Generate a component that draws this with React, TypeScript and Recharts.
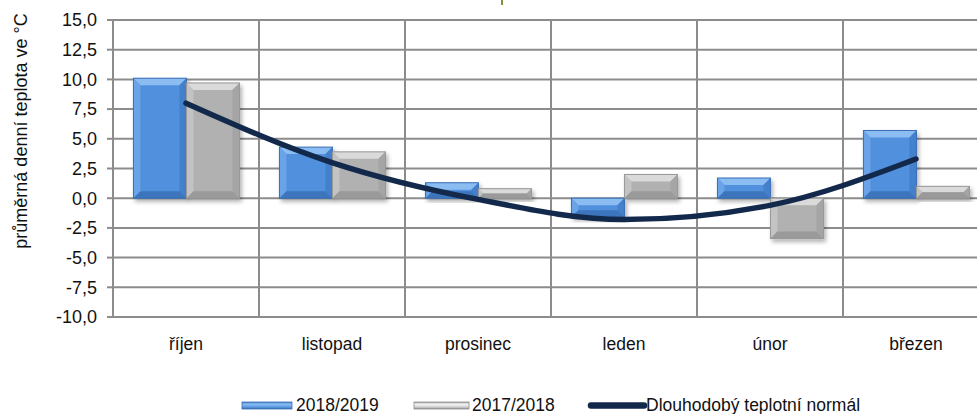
import React from 'react';
import { ComposedChart, Bar, Line, XAxis, YAxis, CartesianGrid } from 'recharts';

const categories = ['říjen', 'listopad', 'prosinec', 'leden', 'únor', 'březen'];
const season2018 = [10.1, 4.3, 1.3, -1.6, 1.7, 5.7];
const season2017 = [9.7, 3.9, 0.8, 2.0, -3.4, 1.0];
const normalTemp = [8.0, 3.0, -0.1, -1.8, -0.6, 3.3];
const yTicks = [-10, -7.5, -5, -2.5, 0, 2.5, 5, 7.5, 10, 12.5, 15];
const seriesNames = ['2018/2019', '2017/2018', 'Dlouhodobý teplotní normál'];
const yLabel = 'průměrná denní teplota ve °C';

const data = categories.map((c, i) => ({
  name: c,
  s2018: season2018[i],
  s2017: season2017[i],
  normal: normalTemp[i],
}));

const FONT = '"Liberation Sans", Arial, sans-serif';
const GRID = '#8c8c8c';

const palettes: Record<string, any> = {
  blue: { face: '#5190dc', top: '#8cbdf2', left: '#6aa3e8', right: '#4580cc', bottom: '#3d74bd', edge: '#3b6fb5' },
  grey: { face: '#b1b1b1', top: '#dadada', left: '#c3c3c3', right: '#a5a5a5', bottom: '#9a9a9a', edge: '#979797' },
};

const makeBevel = (pal: any) => (props: any) => {
  let { x, y, width, height } = props;
  if (height < 0) {
    y = y + height;
    height = -height;
  }
  if (!width || !height) return null;
  const b = Math.min(7, height / 2, width / 2);
  const x2 = x + width;
  const y2 = y + height;
  return (
    <g filter="url(#barShadow)">
      <rect x={x} y={y} width={width} height={height} fill={pal.face} />
      <polygon points={`${x},${y} ${x2},${y} ${x2 - b},${y + b} ${x + b},${y + b}`} fill={pal.top} />
      <polygon points={`${x},${y} ${x + b},${y + b} ${x + b},${y2 - b} ${x},${y2}`} fill={pal.left} />
      <polygon points={`${x2},${y} ${x2},${y2} ${x2 - b},${y2 - b} ${x2 - b},${y + b}`} fill={pal.right} />
      <polygon points={`${x},${y2} ${x + b},${y2 - b} ${x2 - b},${y2 - b} ${x2},${y2}`} fill={pal.bottom} />
      <rect x={x} y={y} width={width} height={height} fill="none" stroke={pal.edge} strokeWidth={1} />
    </g>
  );
};

const BlueBar = makeBevel(palettes.blue);
const GreyBar = makeBevel(palettes.grey);

const fmt = (v: number) => v.toFixed(1).replace('.', ',');

const YLabelContent = () => (
  <text
    x={27}
    y={131}
    transform="rotate(-90, 27, 131)"
    textAnchor="middle"
    fontFamily={FONT}
    fontSize={18}
    fill="#111"
  >
    {yLabel}
  </text>
);

const vGen = ({ offset }: any) => {
  const pts: number[] = [];
  for (let i = 0; i <= categories.length; i++) {
    pts.push(offset.left + (i * offset.width) / categories.length);
  }
  return pts;
};

const Legend = () => (
  <svg width={977} height={414} style={{ position: 'absolute', left: 0, top: 0, pointerEvents: 'none' }}>
    <defs>
      <linearGradient id="lgBlue" x1="0" y1="0" x2="0" y2="1">
        <stop offset="0" stopColor="#3f78c4" />
        <stop offset="0.3" stopColor="#8cc0f3" />
        <stop offset="0.7" stopColor="#5d9be2" />
        <stop offset="1" stopColor="#3a6fb5" />
      </linearGradient>
      <linearGradient id="lgGrey" x1="0" y1="0" x2="0" y2="1">
        <stop offset="0" stopColor="#9a9a9a" />
        <stop offset="0.3" stopColor="#f4f4f4" />
        <stop offset="0.7" stopColor="#d4d4d4" />
        <stop offset="1" stopColor="#8f8f8f" />
      </linearGradient>
    </defs>
    <rect x={242} y={402} width={50} height={7} fill="url(#lgBlue)" stroke="#3b6fb5" strokeWidth={0.8} />
    <text x={296} y={411} fontFamily={FONT} fontSize={17.5} fill="#111">{seriesNames[0]}</text>
    <rect x={414} y={402} width={55} height={7} fill="url(#lgGrey)" stroke="#8f8f8f" strokeWidth={0.8} />
    <text x={472} y={411} fontFamily={FONT} fontSize={17.5} fill="#111">{seriesNames[1]}</text>
    <line x1={591} y1={405.5} x2={644} y2={405.5} stroke="#12294b" strokeWidth={6.5} strokeLinecap="round" />
    <text x={646} y={411} fontFamily={FONT} fontSize={17.5} fill="#111">{seriesNames[2]}</text>
  </svg>
);

export default function App() {
  return (
    <div style={{ position: 'absolute', left: 0, top: 0, width: 977, height: 414, overflow: 'hidden', background: '#fff' }}>
      <div style={{ position: 'absolute', left: 501, top: 0, width: 2, height: 5, background: '#7d9440' }} />
      <ComposedChart
        width={1000}
        height={414}
        data={data}
        margin={{ top: 20, right: 11, bottom: 0, left: 0 }}
        barCategoryGap="14%"
        barGap={0}
      >
        <defs>
          <filter id="barShadow" x="-20%" y="-20%" width="150%" height="150%">
            <feDropShadow dx={2} dy={3} stdDeviation={2} floodColor="#000" floodOpacity={0.3} />
          </filter>
        </defs>
        <CartesianGrid
          stroke={GRID}
          strokeWidth={2}
          verticalCoordinatesGenerator={vGen}
        />
        <XAxis
          dataKey="name"
          height={97}
          axisLine={{ stroke: GRID, strokeWidth: 2 }}
          tickLine={false}
          tickSize={0}
          tickMargin={21}
          tick={{ fontFamily: FONT, fontSize: 17.5, fill: '#111' }}
          interval={0}
        />
        <YAxis
          width={113}
          domain={[-10, 15]}
          ticks={yTicks}
          tickFormatter={fmt}
          axisLine={{ stroke: GRID, strokeWidth: 2 }}
          tickLine={{ stroke: GRID, strokeWidth: 2 }}
          tickSize={6}
          tickMargin={10}
          tick={{ fontFamily: FONT, fontSize: 18, fill: '#111' }}
          interval={0}
          allowDataOverflow
          label={<YLabelContent />}
        />
        <Bar dataKey="s2018" name={seriesNames[0]} shape={BlueBar} isAnimationActive={false} />
        <Bar dataKey="s2017" name={seriesNames[1]} shape={GreyBar} isAnimationActive={false} />
        <Line
          dataKey="normal"
          name={seriesNames[2]}
          type="monotone"
          stroke="#12294b"
          strokeWidth={5.5}
          strokeLinecap="round"
          dot={false}
          isAnimationActive={false}
        />
      </ComposedChart>
      <Legend />
    </div>
  );
}
